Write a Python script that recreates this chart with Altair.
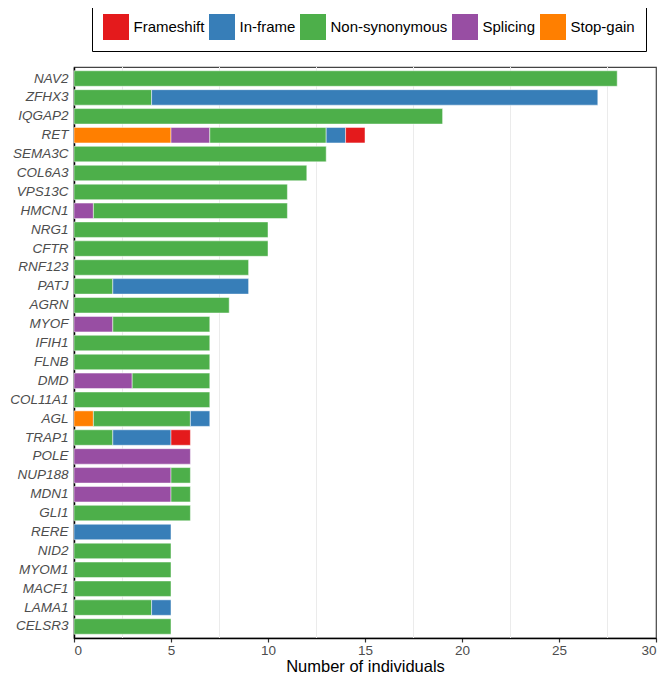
import altair as alt
import pandas as pd

genes = ["NAV2", "ZFHX3", "IQGAP2", "RET", "SEMA3C", "COL6A3", "VPS13C", "HMCN1", "NRG1", "CFTR",
         "RNF123", "PATJ", "AGRN", "MYOF", "IFIH1", "FLNB", "DMD", "COL11A1", "AGL", "TRAP1",
         "POLE", "NUP188", "MDN1", "GLI1", "RERE", "NID2", "MYOM1", "MACF1", "LAMA1", "CELSR3"]

stop_gain = [0, 0, 0, 5, 0, 0, 0, 0, 0, 0, 0, 0, 0, 0, 0, 0, 0, 0, 1, 0, 0, 0, 0, 0, 0, 0, 0, 0, 0, 0]
splicing = [0, 0, 0, 2, 0, 0, 0, 1, 0, 0, 0, 0, 0, 2, 0, 0, 3, 0, 0, 0, 6, 5, 5, 0, 0, 0, 0, 0, 0, 0]
non_syn = [28, 4, 19, 6, 13, 12, 11, 10, 10, 10, 9, 2, 8, 5, 7, 7, 4, 7, 5, 2, 0, 1, 1, 6, 0, 5, 5, 5, 4, 5]
in_frame = [0, 23, 0, 1, 0, 0, 0, 0, 0, 0, 0, 7, 0, 0, 0, 0, 0, 0, 1, 3, 0, 0, 0, 0, 5, 0, 0, 0, 1, 0]
frameshift = [0, 0, 0, 1, 0, 0, 0, 0, 0, 0, 0, 0, 0, 0, 0, 0, 0, 0, 0, 1, 0, 0, 0, 0, 0, 0, 0, 0, 0, 0]

types = ["Frameshift", "In-frame", "Non-synonymous", "Splicing", "Stop-gain"]
colors = ["#E41A1C", "#377EB8", "#4DAF4A", "#984EA3", "#FF7F00"]
stack_order = {"Stop-gain": 0, "Splicing": 1, "Non-synonymous": 2, "In-frame": 3, "Frameshift": 4}

x_ticks = [0, 5, 10, 15, 20, 25, 30]
grid_vals = [2.5, 7.5, 12.5, 17.5, 22.5, 27.5]

rows = []
for series, name in [(stop_gain, "Stop-gain"), (splicing, "Splicing"), (non_syn, "Non-synonymous"),
                     (in_frame, "In-frame"), (frameshift, "Frameshift")]:
    for g, v in zip(genes, series):
        if v > 0:
            rows.append({"gene": g, "type": name, "count": v, "ord": stack_order[name]})
df = pd.DataFrame(rows)
grid_df = pd.DataFrame({"x": grid_vals})

FONT = "Liberation Sans"

grid = alt.Chart(grid_df).mark_rule(color="#EBEBEB", strokeWidth=1).encode(
    x=alt.X("x:Q", scale=alt.Scale(domain=[0, 30], nice=False, zero=True))
)

bars = alt.Chart(df).mark_bar(stroke="white", strokeWidth=0.8, strokeOpacity=0.6).encode(
    y=alt.Y("gene:N", sort=genes, title=None,
            scale=alt.Scale(paddingInner=0.18, paddingOuter=0.2),
            axis=alt.Axis(labelFont=FONT, labelFontStyle="italic", labelFontSize=13.5,
                          labelColor="#4D4D4D", ticks=False,
                          domainColor="black", domainWidth=1.5, labelPadding=6)),
    x=alt.X("count:Q", stack="zero", title="Number of individuals",
            scale=alt.Scale(domain=[0, 30], nice=False),
            axis=alt.Axis(values=x_ticks, grid=False, labelFont=FONT, labelFontSize=13.5,
                          labelColor="#4D4D4D", tickColor="#333333", tickSize=4, tickWidth=1.2,
                          domainColor="black", domainWidth=1.5, labelPadding=1,
                          titleFont=FONT, titleFontSize=16.5, titleFontWeight="normal",
                          titleColor="black", titleBaseline="alphabetic", titleY=33.5)),
    color=alt.Color("type:N", scale=alt.Scale(domain=types, range=colors),
                    legend=alt.Legend(title=None, orient="none", legendX=18, legendY=-64,
                                      direction="horizontal", columns=5,
                                      symbolType="square", symbolSize=676,
                                      symbolStrokeWidth=0, symbolOpacity=1,
                                      labelFont=FONT, labelFontSize=15, labelColor="black",
                                      labelOffset=4.5, columnPadding=4,
                                      padding=11, strokeColor="black",
                                      fillColor="white")),
    order=alt.Order("ord:Q"),
)

chart = alt.layer(grid, bars).properties(
    width=582, height=571,
    autosize=alt.AutoSizeParams(type="none"),
    padding={"left": 66, "top": 59, "right": 2, "bottom": 38},
).configure_view(stroke="#444444", strokeWidth=1.2)

chart.save("out.html", embed_options={"renderer": "svg", "actions": False})
